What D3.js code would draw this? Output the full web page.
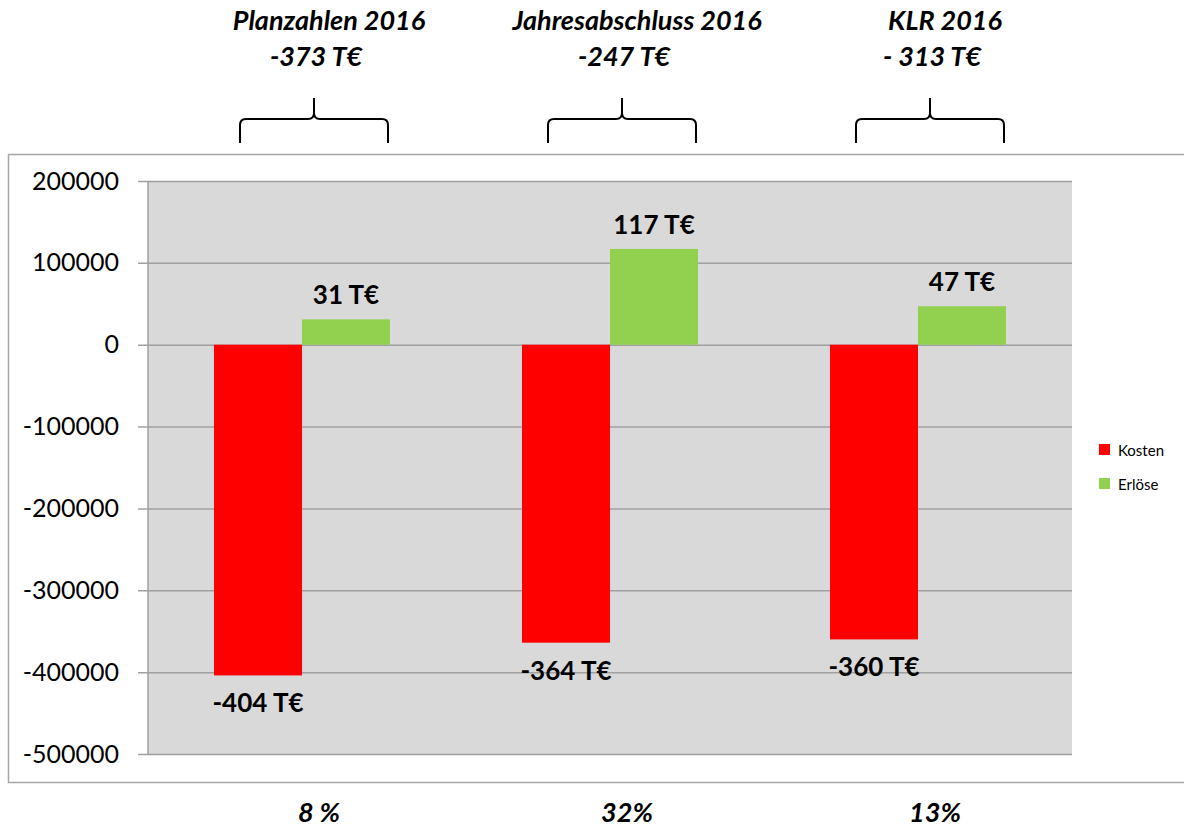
<!DOCTYPE html>
<html>
<head>
<meta charset="utf-8">
<script src="https://cdn.jsdelivr.net/npm/d3@7"></script>
<style>
  body { margin: 0; background: #fff; }
  svg { display: block; font-family: Lato, "Open Sans", sans-serif; }
</style>
</head>
<body>
<svg id="chart" width="1184" height="830"></svg>
<script>
// chart data
var groups = ['Planzahlen 2016', 'Jahresabschluss 2016', 'KLR 2016'];
var totals = ['-373 T€', '-247 T€', '- 313 T€'];
var shares = ['8 %', '32%', '13%'];
var kosten = [-404000, -364000, -360000];
var erloese = [31000, 117000, 47000];
var series = ['Kosten', 'Erlöse'];
var seriesColors = ['#ff0000', '#92d050'];
var yTicks = [200000, 100000, 0, -100000, -200000, -300000, -400000, -500000];

var svg = d3.select('#chart');

// plot area in page pixels
var plot = { left: 148, top: 181, right: 1072, bottom: 754 };

var x = d3.scaleBand()
  .domain(groups)
  .range([plot.left, plot.right])
  .paddingInner(0.4286)
  .paddingOuter(0.2143);

var xs = d3.scaleBand()
  .domain(series)
  .range([0, x.bandwidth()]);

var y = d3.scaleLinear()
  .domain([-500000, 200000])
  .range([plot.bottom, plot.top]);

// plain hyphen minus like the original, not the unicode minus
var fmt = function(v) { return String(v); };

// outer chart border
svg.append('rect')
  .attr('x', 8.5).attr('y', 154.5)
  .attr('width', 1190).attr('height', 628)
  .attr('fill', 'none')
  .attr('stroke', '#a6a6a6')
  .attr('stroke-width', 1.5);

// plot background
svg.append('rect')
  .attr('x', plot.left).attr('y', plot.top)
  .attr('width', plot.right - plot.left)
  .attr('height', plot.bottom - plot.top)
  .attr('fill', '#d9d9d9');

// gridlines + y axis
var yAxis = d3.axisLeft(y)
  .tickValues(yTicks)
  .tickSize(-(plot.right - plot.left))
  .tickPadding(29)
  .tickFormat(fmt);

var gy = svg.append('g')
  .attr('transform', 'translate(' + plot.left + ',0)')
  .call(yAxis);

gy.select('.domain').remove();
gy.selectAll('.tick line')
  .attr('stroke', '#a0a0a0')
  .attr('stroke-width', 1.5)
  .attr('x1', -10);
gy.selectAll('.tick text')
  .attr('fill', '#000')
  .attr('font-size', 25)
  .attr('font-family', 'Lato, sans-serif');

svg.append('line')
  .attr('x1', plot.left).attr('x2', plot.left)
  .attr('y1', plot.top).attr('y2', plot.bottom)
  .attr('stroke', '#a0a0a0')
  .attr('stroke-width', 1.5);

// bars
var rows = groups.map(function(g, i) {
  return [
    { group: g, key: 'Kosten', value: kosten[i] },
    { group: g, key: 'Erlöse', value: erloese[i] }
  ];
});
var flat = d3.merge(rows);

svg.append('g').selectAll('rect')
  .data(flat)
  .join('rect')
  .attr('x', function(d) { return x(d.group) + xs(d.key); })
  .attr('width', xs.bandwidth())
  .attr('y', function(d) { return y(Math.max(0, d.value)); })
  .attr('height', function(d) { return Math.abs(y(d.value) - y(0)); })
  .attr('fill', function(d) { return seriesColors[series.indexOf(d.key)]; });

// value labels
svg.append('g').selectAll('text')
  .data(flat)
  .join('text')
  .attr('x', function(d) { return x(d.group) + xs(d.key) + xs.bandwidth() / 2; })
  .attr('y', function(d) { return d.value >= 0 ? y(d.value) - 15 : y(d.value) + 37; })
  .attr('text-anchor', 'middle')
  .attr('font-size', 26)
  .attr('font-weight', 'bold')
  .attr('fill', '#000')
  .text(function(d) { return Math.round(d.value / 1000) + ' T€'; });

// group titles on top (slightly right of the group centre, as in the original)
var head = svg.append('g').selectAll('g')
  .data(groups)
  .join('g')
  .attr('transform', function(d) { return 'translate(' + (x(d) + x.bandwidth() / 2) + ',0)'; });

head.append('text')
  .attr('x', 27)
  .attr('y', 30)
  .attr('text-anchor', 'middle')
  .attr('font-size', 27)
  .attr('font-weight', 'bold')
  .attr('font-style', 'italic')
  .text(function(d) { return d; });

head.append('text')
  .attr('x', 14)
  .attr('y', 66)
  .attr('text-anchor', 'middle')
  .attr('font-size', 27)
  .attr('font-weight', 'bold')
  .attr('font-style', 'italic')
  .text(function(d, i) { return totals[i]; });

// curly braces
head.append('path')
  .attr('transform', 'translate(12,0)')
  .attr('d', function(d) {
    var h = 74, top = 98, mid = 119, bot = 143;
    return 'M' + (-h) + ',' + bot + ' L' + (-h) + ',' + (mid + 6) +
      ' Q' + (-h) + ',' + mid + ' ' + (-h + 6) + ',' + mid +
      ' L-6,' + mid + ' Q0,' + mid + ' 0,' + (mid - 6) +
      ' L0,' + top +
      ' M0,' + (mid - 6) + ' Q0,' + mid + ' 6,' + mid +
      ' L' + (h - 6) + ',' + mid +
      ' Q' + h + ',' + mid + ' ' + h + ',' + (mid + 6) +
      ' L' + h + ',' + bot;
  })
  .attr('fill', 'none')
  .attr('stroke', '#000')
  .attr('stroke-width', 2);

// percentages at the bottom
head.append('text')
  .attr('x', 17)
  .attr('y', 822)
  .attr('text-anchor', 'middle')
  .attr('font-size', 27)
  .attr('font-weight', 'bold')
  .attr('font-style', 'italic')
  .text(function(d, i) { return shares[i]; });

// legend
var legend = svg.append('g')
  .attr('transform', 'translate(1099,444)')
  .selectAll('g')
  .data(series)
  .join('g')
  .attr('transform', function(d, i) { return 'translate(0,' + (i * 34) + ')'; });

legend.append('rect')
  .attr('width', 11).attr('height', 11)
  .attr('fill', function(d, i) { return seriesColors[i]; });

legend.append('text')
  .attr('x', 19)
  .attr('y', 12)
  .attr('font-size', 15)
  .attr('fill', '#000')
  .text(function(d) { return d; });
</script>
</body>
</html>
